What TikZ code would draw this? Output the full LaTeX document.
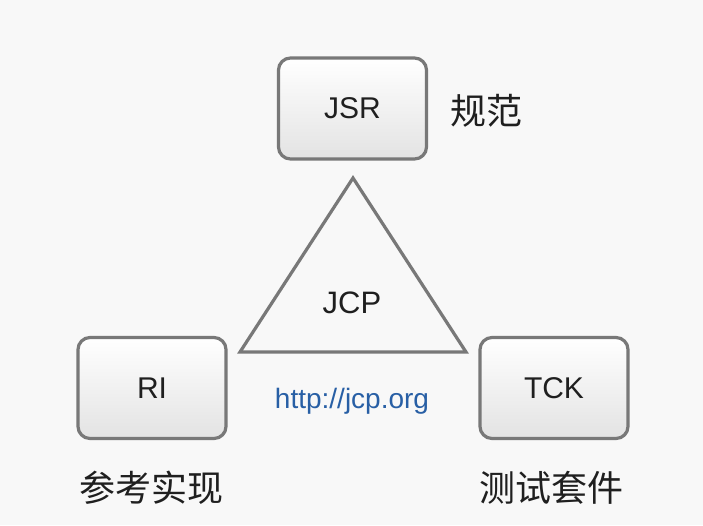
\documentclass[tikz,border=0pt]{standalone}
\usepackage{fontspec}
\setmainfont{Liberation Sans}
\newfontfamily\cjk{Noto Sans CJK SC}
\definecolor{bgc}{RGB}{248,248,248}
\definecolor{edgec}{RGB}{120,120,120}
\definecolor{urlc}{RGB}{40,95,165}
\begin{document}
\begin{tikzpicture}[x=1pt,y=-1pt,
  boxst/.style={draw=edgec,line width=3.2pt,rounded corners=12pt,minimum width=148pt,minimum height=101pt,
    top color=white,bottom color=gray!22,font=\fontsize{30}{36}\selectfont,text=black!88},
  cjkst/.style={font=\cjk\fontsize{36}{42}\selectfont,text=black!88},
  tri/.style={draw=edgec,line width=3.2pt,line join=miter}]
\fill[bgc] (0,0) rectangle (703,525);
\useasboundingbox (0,0) rectangle (703,525);
\node[boxst] (jsr) at (352.5,108.5) {JSR};
\node[boxst] (ri) at (152,388) {RI};
\node[boxst] (tck) at (554,388) {TCK};
\coordinate (ta) at (353,178);
\coordinate (tl) at (240,352);
\coordinate (tr) at (466,352);
\draw[tri] (ta) -- (tl) -- (tr) -- cycle;
\node[font=\fontsize{31}{36}\selectfont,text=black!88] (jcp) at (352,303) {JCP};
\node[font=\fontsize{28}{32}\selectfont,text=urlc] (url) at (352,401) {http://jcp.org};
\node[cjkst] (l1) at (486,111) {规范};
\node[cjkst] (l2) at (151,488) {参考实现};
\node[cjkst] (l3) at (551,488) {测试套件};
\end{tikzpicture}
\end{document}
